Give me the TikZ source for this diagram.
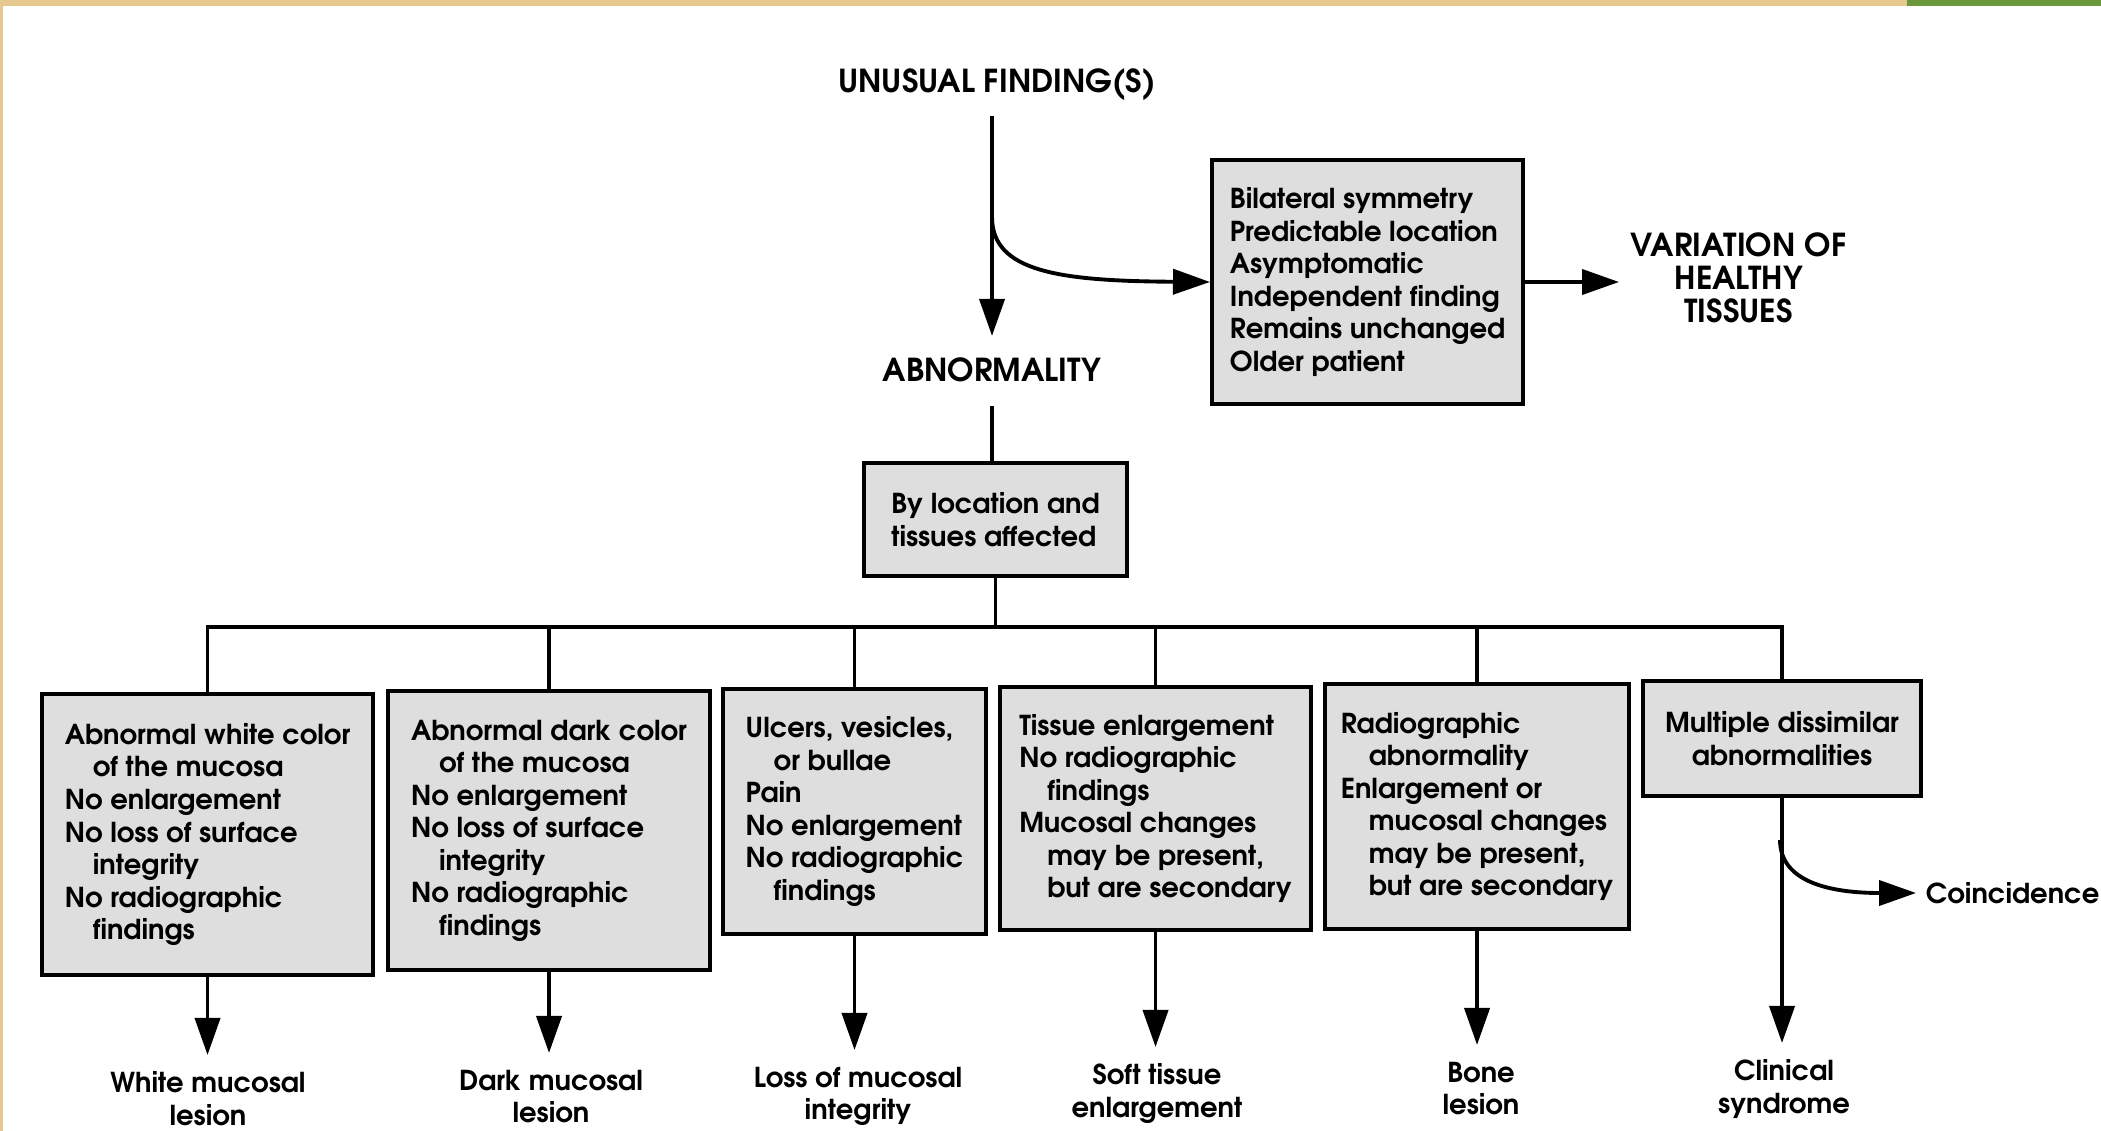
\documentclass[tikz,border=0pt]{standalone}
\usepackage{fontspec}
\IfFontExistsTF{texgyreadventor-bold.otf}
  {\setmainfont{texgyreadventor-bold.otf}}
  {\setmainfont{Poppins}}
\usetikzlibrary{arrows.meta,positioning}

\definecolor{boxfill}{RGB}{222,222,222}
\definecolor{scanedge}{RGB}{229,201,142}
\definecolor{scangreen}{RGB}{106,152,58}

\newcommand\boxfont{\fontsize{7.8pt}{9.25pt}\selectfont}
\newcommand\capsfont{\fontsize{9pt}{9.3pt}\selectfont}
\newcommand\ind{\hspace*{0.28cm}}

\tikzset{
  crit/.style={draw, fill=boxfill, anchor=north west, align=left, inner sep=0pt, font=\boxfont},
  caps/.style={inner sep=0pt, align=center, font=\capsfont},
  outcome/.style={anchor=north, inner sep=0pt, align=center, font=\boxfont},
}

\begin{document}
\begin{tikzpicture}[x=0.01cm, y=-0.01cm, line width=1.1pt, line join=miter,
  >={Triangle[length=0.37cm,width=0.25cm]}]
\useasboundingbox (0,0) rectangle (2101,1131);

% Edges of the scanned page
\fill[scanedge] (0,0) rectangle (2101,6);
\fill[scanedge] (0,0) rectangle (3,1131);
\fill[scangreen] (1907,0) rectangle (2101,6);

% Top part: finding, normal variation, abnormality
\node[caps] (unusual) at (997,85) {UNUSUAL FINDING(S)};
\node[caps] (abnorm) at (992,370) {ABNORMALITY};
\node[caps, anchor=west] (healthy) at (1629,278) {VARIATION OF\\HEALTHY\\TISSUES};
\node[crit, minimum width=3.11cm, minimum height=2.44cm] (normal) at (1210,158)
  {Bilateral symmetry\\Predictable location\\Asymptomatic\\Independent finding\\Remains unchanged\\Older patient};
\node[crit, minimum width=2.63cm, minimum height=1.13cm] (byloc) at (862,461)
  {By location and\\tissues affected};
\coordinate (split) at (992,217);

\draw[->, shorten <=0.13cm, shorten >=0.2cm] (abnorm.north |- unusual.south) -- (abnorm.north);
\draw[->] (split) .. controls (992,272) and (1060,281) .. (normal.west);
\draw[->, shorten >=0.1cm] (normal.east) -- (normal.east -| healthy.west);
\draw[shorten <=0.22cm] (abnorm.south) -- (abnorm.south |- byloc.north);

% Six groups by location and tissues affected
\node[crit, minimum width=3.31cm, minimum height=2.81cm] (white) at (40,692)
  {Abnormal white color\\\ind of the mucosa\\No enlargement\\No loss of surface\\\ind integrity\\No radiographic\\\ind findings};
\node[crit, minimum width=3.22cm, minimum height=2.79cm] (dark) at (386,689)
  {Abnormal dark color\\\ind of the mucosa\\No enlargement\\No loss of surface\\\ind integrity\\No radiographic\\\ind findings};
\node[crit, minimum width=2.63cm, minimum height=2.45cm] (ulcer) at (721,687)
  {Ulcers, vesicles,\\\ind or bullae\\Pain\\No enlargement\\No radiographic\\\ind findings};
\node[crit, minimum width=3.11cm, minimum height=2.43cm] (swell) at (998,685)
  {Tissue enlargement\\No radiographic\\\ind findings\\Mucosal changes\\\ind may be present,\\\ind but are secondary};
\node[crit, minimum width=3.04cm, minimum height=2.45cm] (bone) at (1323,682)
  {Radiographic\\\ind abnormality\\Enlargement or\\\ind mucosal changes\\\ind may be present,\\\ind but are secondary};
\node[crit, align=center, minimum width=2.78cm, minimum height=1.15cm] (multi) at (1641,679)
  {Multiple dissimilar\\abnormalities};

% Branching line
\coordinate (bus) at (993,627);
\draw (byloc.south) -- (byloc.south |- bus);
\draw (white.north) |- (bus) -| (multi.north);
\draw (dark.north) -- (dark.north |- bus);
\draw (ulcer.north) -- (ulcer.north |- bus);
\draw (swell.north) -- (swell.north |- bus);
\draw (bone.north) -- (bone.north |- bus);

% Outcomes
\node[outcome] (whitelsn) at (208,1070) {White mucosal\\lesion};
\node[outcome] (darklsn) at (551,1068) {Dark mucosal\\lesion};
\node[outcome] (losslsn) at (858,1065) {Loss of mucosal\\integrity};
\node[outcome] (softlsn) at (1157,1062) {Soft tissue\\enlargement};
\node[outcome] (bonelsn) at (1481,1060) {Bone\\lesion};
\node[outcome] (synd) at (1784,1058) {Clinical\\syndrome};
\node[outcome, anchor=west] (coinc) at (1924,893) {Coincidence};
\coordinate (csplit) at (1780,840);

\draw[->, shorten >=0.15cm] (white.south) -- (white.south |- whitelsn.north);
\draw[->, shorten >=0.15cm] (dark.south) -- (dark.south |- darklsn.north);
\draw[->, shorten >=0.15cm] (ulcer.south) -- (ulcer.south |- losslsn.north);
\draw[->, shorten >=0.15cm] (swell.south) -- (swell.south |- softlsn.north);
\draw[->, shorten >=0.15cm] (bone.south) -- (bone.south |- bonelsn.north);
\draw[->, shorten >=0.15cm] (multi.south) -- (multi.south |- synd.north);
\draw[->, shorten >=0.08cm] (csplit) .. controls (1780,882) and (1830,893) .. (coinc.west);
\end{tikzpicture}
\end{document}
